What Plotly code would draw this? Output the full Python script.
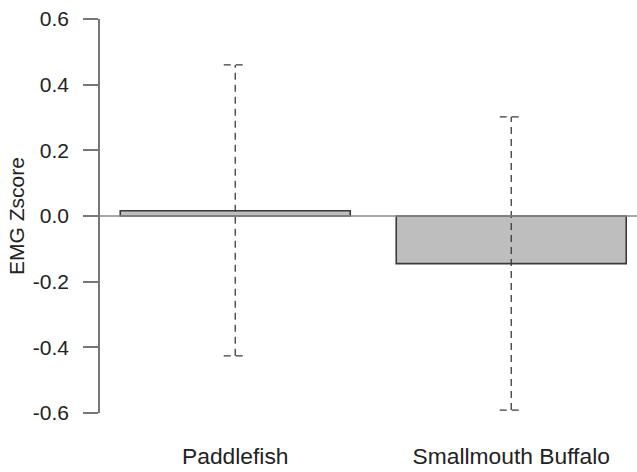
import plotly.graph_objects as go

categories = ["Paddlefish", "Smallmouth Buffalo"]
means = [0.016, -0.145]
upper = [0.46, 0.302]
lower = [-0.426, -0.591]
y_ticks = [-0.6, -0.4, -0.2, 0.0, 0.2, 0.4, 0.6]
y_ticktext = ["-0.6", "-0.4", "-0.2", "0.0", "0.2", "0.4", "0.6"]

# R barplot geometry: width 1, space 0.2
x_pos = [0.2 + 0.5 + i * 1.2 for i in range(len(categories))]
cap = 0.05

FONT = "Liberation Sans, Arial, Helvetica, sans-serif"

fig = go.Figure()
fig.add_trace(go.Bar(
    x=x_pos, y=means, width=1.0,
    marker=dict(color="#bebebe", line=dict(color="#3a3a3a", width=1.6)),
    showlegend=False, hoverinfo="skip",
))

ex, ey = [], []
for xc, lo, hi in zip(x_pos, lower, upper):
    ex += [xc, xc, None, xc - cap, xc + cap, None, xc - cap, xc + cap, None]
    ey += [lo, hi, None, hi, hi, None, lo, lo, None]
fig.add_trace(go.Scatter(
    x=ex, y=ey, mode="lines",
    line=dict(color="#3a3a3a", width=1.3, dash="7px,5px"),
    showlegend=False, hoverinfo="skip",
))

fig.add_shape(type="line", xref="paper", yref="y", x0=0, x1=1, y0=0, y1=0,
              line=dict(color="#8a8a8a", width=1.5), layer="above")

fig.update_layout(
    width=637, height=472,
    margin=dict(l=100, r=0, t=19, b=59),
    paper_bgcolor="white", plot_bgcolor="white",
    font=dict(family=FONT, size=21, color="#222"),
    xaxis=dict(
        range=[0.112, 0.112 + 537 / 230.0],
        tickvals=x_pos, ticktext=categories,
        ticks="outside", ticklen=23, tickcolor="rgba(0,0,0,0)",
        showline=False, showgrid=False, zeroline=False,
        tickfont=dict(size=22.8),
    ),
    yaxis=dict(
        range=[-0.6, 0.6],
        tickvals=y_ticks, ticktext=y_ticktext,
        ticks="outside", ticklen=15, tickcolor="#777", tickwidth=1.5,
        showline=True, linecolor="#777", linewidth=1.5,
        showgrid=False, zeroline=False,
        ticklabelstandoff=10,
        tickfont=dict(size=21),
        title=dict(text="EMG Zscore", font=dict(size=21), standoff=3),
    ),
)

fig.write_html("out.html")
